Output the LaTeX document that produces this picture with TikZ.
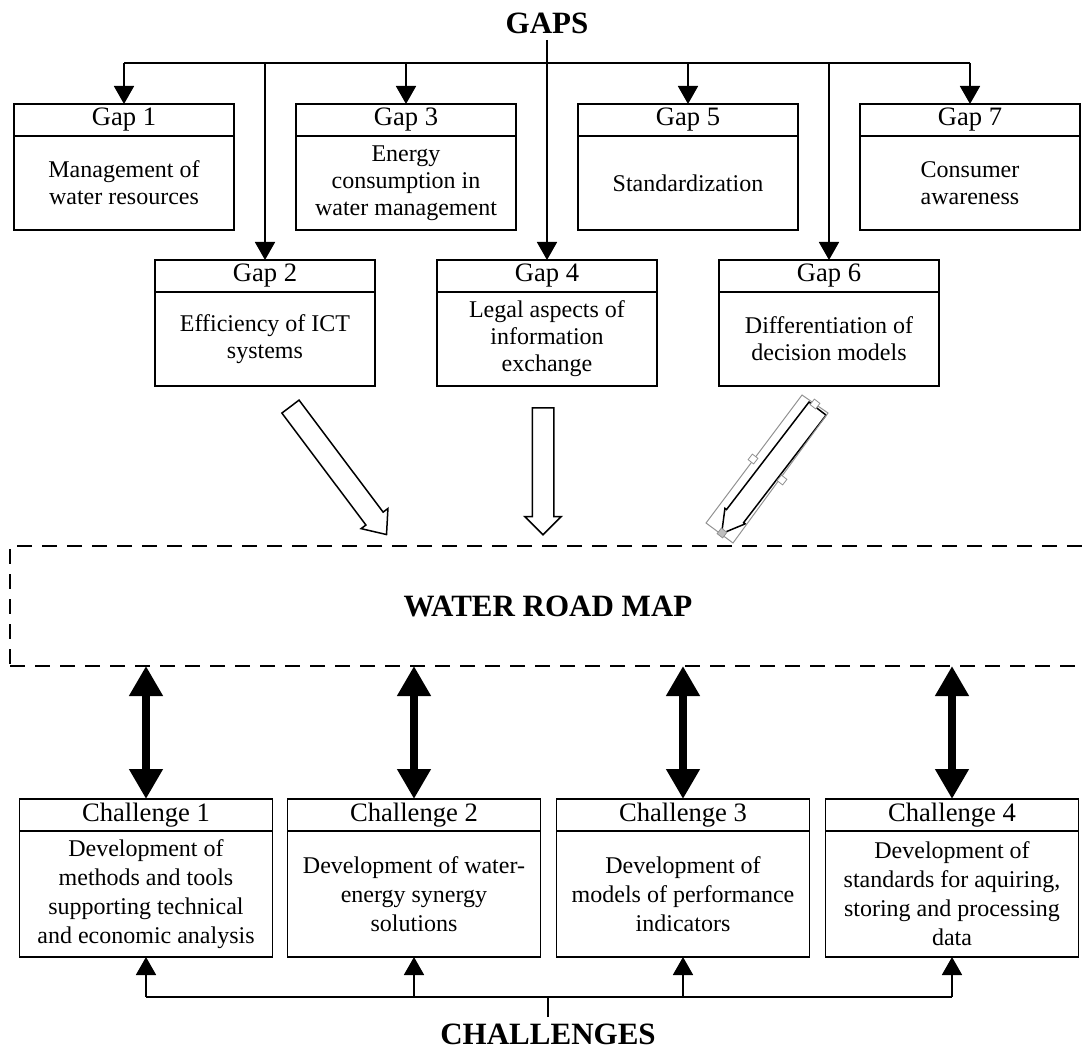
\documentclass[tikz,border=0pt]{standalone}
\usepackage{fontspec}
\setmainfont{Liberation Serif}
\usepackage{tikz}
\usetikzlibrary{shapes,positioning,calc}
\usetikzlibrary{shapes.arrows}
\usetikzlibrary{arrows.meta}
\colorlet{framegray}{gray!85}
\tikzstyle{link} = [line width=0.9pt,-{Triangle[width=10pt,length=9pt]}]
\tikzstyle{bus} = [line width=0.9pt]

\begin{document}
\begin{tikzpicture}[x=0.5pt,y=-0.5pt,
	title/.style={font=\fontsize{15.5}{18}\selectfont\bfseries, inner sep=3pt},
	gaphead/.style={draw, line width=0.75pt, outer sep=0pt, inner sep=0pt, minimum width=110pt, minimum height=16pt, font=\fontsize{13.3}{15}\selectfont},
	gapbody/.style={draw, line width=0.75pt, outer sep=0pt, inner sep=0pt, minimum width=110pt, minimum height=47pt, align=center, font=\fontsize{12}{13.5}\selectfont},
	chhead/.style={gaphead, minimum width=126.5pt},
	chbody/.style={gapbody, minimum width=126.5pt, minimum height=63pt, font=\fontsize{12}{14.5}\selectfont},
	blockarrow/.style={shape=single arrow, draw, line width=0.75pt, inner sep=0pt, text height=10pt, text depth=0pt, anchor=tail},
	duplex/.style={line width=4pt, {Triangle[width=16pt,length=15pt]}-{Triangle[width=16pt,length=15pt]}},
	mapbox/.style={draw, line width=0.75pt, dash pattern=on 7.5pt off 5pt, outer sep=0pt, minimum width=538pt, minimum height=60pt, font=\fontsize{15.5}{18}\selectfont\bfseries},
	selframe/.style={draw=framegray, line width=0.5pt},
	handle/.style={draw=framegray, fill=white, line width=0.4pt, minimum size=3.5pt, inner sep=0pt}]
	\useasboundingbox (0,0) rectangle (1082,1048);

	% GAPS

	\node[title] (gaps) at (547,23) {GAPS};
	\coordinate (gapbus) at (547,63);

	\node[gaphead] (g1) at (124,120) {Gap 1};
	\node[gapbody, below=0pt of g1] (g1b) {Management of\\water resources};
	\node[gaphead] (g3) at (406,120) {Gap 3};
	\node[gapbody, below=0pt of g3] (g3b) {Energy\\consumption in\\water management};
	\node[gaphead] (g5) at (688,120) {Gap 5};
	\node[gapbody, below=0pt of g5] (g5b) {Standardization};
	\node[gaphead] (g7) at (970,120) {Gap 7};
	\node[gapbody, below=0pt of g7] (g7b) {Consumer\\awareness};

	\node[gaphead] (g2) at (265,276) {Gap 2};
	\node[gapbody, below=0pt of g2] (g2b) {Efficiency of ICT\\systems};
	\node[gaphead] (g4) at (547,276) {Gap 4};
	\node[gapbody, below=0pt of g4] (g4b) {Legal aspects of\\information\\exchange};
	\node[gaphead] (g6) at (829,276) {Gap 6};
	\node[gapbody, below=0pt of g6] (g6b) {Differentiation of\\decision models};

	\draw[line width=1.4pt] (gaps.south) -- (gapbus);
	\draw[bus] (g1.north |- gapbus) -- (g7.north |- gapbus);
	\draw[link] (g1.north |- gapbus) -- (g1.north);
	\draw[link] (g2.north |- gapbus) -- (g2.north);
	\draw[link] (g3.north |- gapbus) -- (g3.north);
	\draw[link] (g4.north |- gapbus) -- (g4.north);
	\draw[link] (g5.north |- gapbus) -- (g5.north);
	\draw[link] (g6.north |- gapbus) -- (g6.north);
	\draw[link] (g7.north |- gapbus) -- (g7.north);

	% ROAD MAP

	\node[blockarrow, rotate=-53.1, minimum height=80pt, single arrow head extend=3pt, single arrow tip angle=80] (arr2) at (290,406) {};
	\node[blockarrow, rotate=-90, minimum height=63.5pt, single arrow head extend=3.75pt, single arrow tip angle=90] (arr4) at (543,407) {};
	\node[blockarrow, rotate=-127.5, minimum height=78.8pt, single arrow head extend=1pt, single arrow tip angle=60] (arr6) at (818,408) {};
	\draw[selframe] (802,395) -- (828,413) -- (733,543) -- (706,523) -- cycle;
	\node[handle, rotate=52.5] (hnd1) at (815,404) {};
	\node[handle, rotate=52.5] (hnd2) at (753,459) {};
	\node[handle, rotate=52.5] (hnd3) at (782,480) {};
	\node[handle, rotate=52.5, fill=framegray!60] (hnd4) at (722,533) {};

	\node[mapbox] (map) at (548,606) {WATER ROAD MAP};

	% CHALLENGES

	\node[chhead] (c1) at (146,815) {Challenge 1};
	\node[chbody, below=0pt of c1] (c1b) {Development of\\methods and tools\\supporting technical\\and economic analysis};
	\node[chhead] (c2) at (414,815) {Challenge 2};
	\node[chbody, below=0pt of c2] (c2b) {Development of water-\\energy synergy\\solutions};
	\node[chhead] (c3) at (683,815) {Challenge 3};
	\node[chbody, below=0pt of c3] (c3b) {Development of\\models of performance\\indicators};
	\node[chhead] (c4) at (952,815) {Challenge 4};
	\node[chbody, below=0pt of c4] (c4b) {Development of\\standards for aquiring,\\storing and processing\\data};

	\draw[duplex] (map.south -| c1.north) -- (c1.north);
	\draw[duplex] (map.south -| c2.north) -- (c2.north);
	\draw[duplex] (map.south -| c3.north) -- (c3.north);
	\draw[duplex] (map.south -| c4.north) -- (c4.north);

	\node[title] (challenges) at (548,1034) {CHALLENGES};
	\coordinate (chbus) at (548,997);

	\draw[line width=1.4pt] (challenges.north) -- (chbus);
	\draw[bus] (c1b.south |- chbus) -- (c4b.south |- chbus);
	\draw[link] (c1b.south |- chbus) -- (c1b.south);
	\draw[link] (c2b.south |- chbus) -- (c2b.south);
	\draw[link] (c3b.south |- chbus) -- (c3b.south);
	\draw[link] (c4b.south |- chbus) -- (c4b.south);

\end{tikzpicture}
\end{document}
